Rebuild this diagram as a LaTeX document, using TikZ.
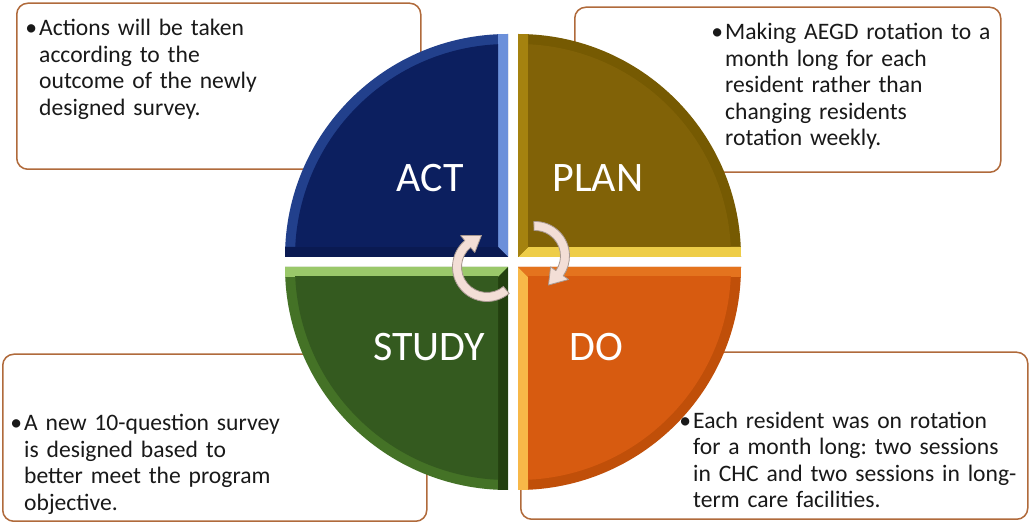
\documentclass[tikz,border=0pt]{standalone}
\usepackage{fontspec}
\setmainfont{Carlito}
\usetikzlibrary{calc}
\definecolor{boxbrown}{HTML}{B06A3B}
\definecolor{actband}{HTML}{22408C}
\definecolor{acthi}{HTML}{6C90DA}
\definecolor{actsh}{HTML}{0A1A52}
\definecolor{actbase}{HTML}{0C1F5F}
\definecolor{planband}{HTML}{765A02}
\definecolor{planhi}{HTML}{EECD48}
\definecolor{plansh}{HTML}{A5820F}
\definecolor{planbase}{HTML}{816207}
\definecolor{doband}{HTML}{C04F09}
\definecolor{dohi}{HTML}{F8B848}
\definecolor{dosh}{HTML}{E4731E}
\definecolor{dobase}{HTML}{D75B10}
\definecolor{stband}{HTML}{447226}
\definecolor{sthi}{HTML}{9AC86A}
\definecolor{stsh}{HTML}{23400F}
\definecolor{stbase}{HTML}{345A1F}
\definecolor{arrowfill}{HTML}{F3DED6}
\definecolor{arrowline}{HTML}{A89890}
\tikzset{
  pics/quad/.style n args={4}{code={
    \fill[#1] (0,0) -- (0,223) arc (90:180:223) -- cycle;
    \begin{scope}
      \clip (0,0) -- (0,223) arc (90:180:223) -- cycle;
      \fill[#2] (0,0) -- (0,223) -- (-10,223) -- (-10,10) -- cycle;
      \fill[#3] (0,0) -- (-223,0) -- (-223,10) -- (-10,10) -- cycle;
      \clip (-10,10) rectangle (-223,223);
      \fill[#4] (0,0) circle (213);
    \end{scope}
  }},
  infobox/.style={draw=boxbrown, line width=1.5pt, fill=white, rounded corners=11pt, anchor=south west, inner sep=0pt},
  txt/.style={font=\fontsize{23.6}{26.5}\selectfont\frenchspacing, text width=400pt, align=left, inner sep=0pt, anchor=base west, text=black!90},
  lab/.style={font=\fontsize{42}{48}\selectfont, text=white, inner sep=0pt},
  arrowst/.style={fill=arrowfill, draw=arrowline, line width=0.8pt, line join=round}
}
\begin{document}
\begin{tikzpicture}[x=1pt,y=1pt]
\useasboundingbox (0,0) rectangle (1029,525);
\fill[white] (0,0) rectangle (1029,525);
% boxes
\node[infobox, minimum width=404pt, minimum height=166pt] (boxTL) at (16,355) {};
\node[infobox, minimum width=426pt, minimum height=165pt] (boxTR) at (574,352) {};
\node[infobox, minimum width=424pt, minimum height=167pt] (boxBL) at (2,3) {};
\node[infobox, minimum width=507pt, minimum height=167pt] (boxBR) at (520,5) {};
% texts
\node[txt] (tTL) at (39,489) {\leavevmode\llap{•\kern2pt}Actions will be taken\\according to the\\outcome of the newly\\designed survey.};
\node[txt] (tTR) at (725,485) {\leavevmode\llap{•\kern2pt}Making AEGD rotation to a\\month long for each\\resident rather than\\changing residents\\rotation weekly.};
\node[txt] (tBL) at (24,94.3) {\leavevmode\llap{•\kern2pt}A new 10-question survey\\is designed based to\\better meet the program\\objective.};
\node[txt] (tBR) at (693,96.7) {\leavevmode\llap{•\kern2pt}Each resident was on rotation\\for a month long: two sessions\\in CHC and two sessions in long-\\term care facilities.};
% quadrants
\pic at (508,268) {quad={actband}{acthi}{actsh}{actbase}};
\pic[rotate=-90] at (518,268) {quad={planband}{planhi}{plansh}{planbase}};
\pic[rotate=180] at (518,258) {quad={doband}{dohi}{dosh}{dobase}};
\pic[rotate=90] at (508,258) {quad={stband}{sthi}{stsh}{stbase}};
% labels
\node[lab] (actL) at (430,347) {ACT};
\node[lab] (planL) at (598,347) {PLAN};
\node[lab] (studyL) at (429,178) {STUDY};
\node[lab] (doL) at (596,178) {DO};
% cycle arrows
\coordinate (cl) at (487,258);
\coordinate (cr) at (535,269);
\draw[arrowst] ($(cl)+(-50:34.5)$) arc (-50:-230:34.5) -- ($(cl)+(-230:41)$) -- ($(cl)+(-260:32)$) -- ($(cl)+(-230:19)$) -- ($(cl)+(-230:25.5)$) arc (-230:-50:25.5) -- cycle;
\draw[arrowst] ($(cr)+(92:34.5)$) arc (92:-35:34.5) -- ($(cr)+(-35:41)$) -- ($(cr)+(-65:32)$) -- ($(cr)+(-35:19)$) -- ($(cr)+(-35:25.5)$) arc (-35:92:25.5) -- cycle;
\end{tikzpicture}
\end{document}
